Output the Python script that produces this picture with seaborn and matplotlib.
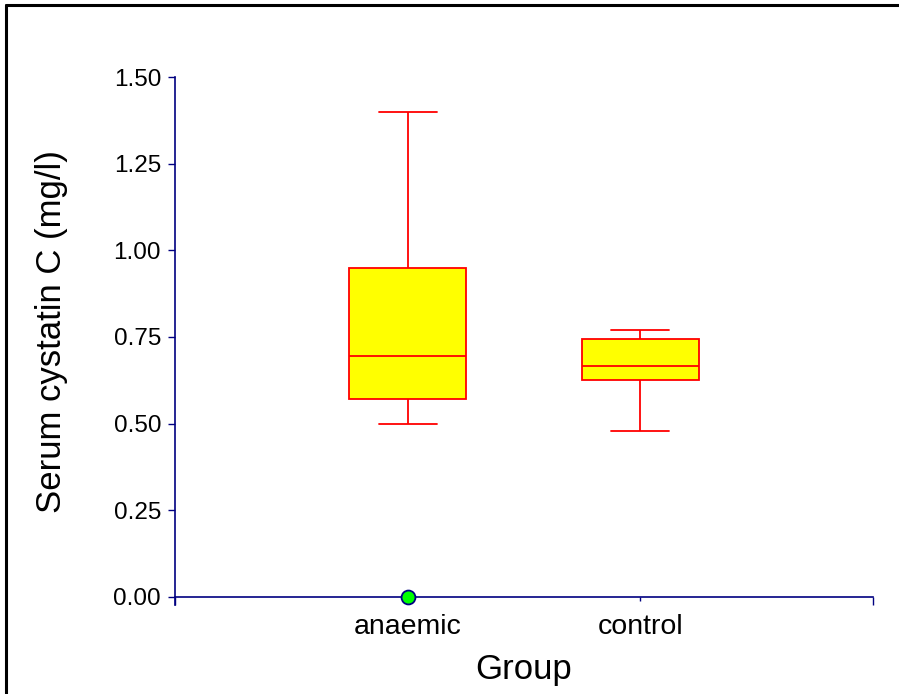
"""
Serum cystatin C by group - box plot
"""

import pandas as pd
import seaborn as sns
import matplotlib.pyplot as plt
from matplotlib.lines import Line2D

# -------------------------------
# Data
# -------------------------------
groups = ["anaemic", "control"]
anaemic_vals = [0.00, 0.50, 0.57, 0.63, 0.695, 0.82, 0.95, 1.20, 1.40]
control_vals = [0.479, 0.55, 0.626, 0.65, 0.666, 0.70, 0.744, 0.76, 0.770]
y_ticks = [0.00, 0.25, 0.50, 0.75, 1.00, 1.25, 1.50]

df = pd.DataFrame({
    "Group": ["anaemic"] * len(anaemic_vals) + ["control"] * len(control_vals),
    "value": anaemic_vals + control_vals,
})

# -------------------------------
# Style
# -------------------------------
sns.set_theme(style="ticks")
plt.rcParams["font.family"] = ["Liberation Sans", "DejaVu Sans"]
plt.rcParams["text.color"] = "black"
plt.rcParams["axes.labelcolor"] = "black"
navy = "#000080"

fig = plt.figure(figsize=(8.99, 6.94), dpi=100)
W, H = 899, 694
ax = fig.add_axes([175 / W, (H - 605) / H, (873 - 175) / W, (605 - 77) / H])

sns.boxplot(
    data=df, x="Group", y="value", order=groups, ax=ax,
    width=0.5, whis=1.4, color="#ffff00", saturation=1,
    linecolor="#ff0000", linewidth=1.3,
    flierprops=dict(marker="o", markerfacecolor="#00ff00",
                    markeredgecolor=navy, markersize=10,
                    markeredgewidth=1.3, zorder=5, clip_on=False),
)

# -------------------------------
# Axes
# -------------------------------
ax.set_xlim(-1, 2)
ax.set_ylim(-0.0231, 1.5)
ax.set_yticks(y_ticks)
ax.set_yticklabels([f"{t:.2f}" for t in y_ticks])
ax.set_xticks([0, 1])
ax.set_xticklabels(groups)
ax.set_xticks([-1, 2], minor=True)

ax.spines["top"].set_visible(False)
ax.spines["right"].set_visible(False)
ax.spines["bottom"].set_position(("data", 0))
for s in ["left", "bottom"]:
    ax.spines[s].set_color(navy)
    ax.spines[s].set_linewidth(1.2)

ax.tick_params(axis="y", colors=navy, labelcolor="black", length=5,
               width=1, pad=5, labelsize=17.5)
ax.tick_params(axis="x", which="major", colors=navy, labelcolor="black",
               length=3, width=1, pad=9, labelsize=20.5)
ax.tick_params(axis="x", which="minor", colors=navy, length=6, width=1)

ax.set_xlabel("Group", fontsize=25)
ax.set_ylabel("Serum cystatin C (mg/l)", fontsize=25)
ax.xaxis.set_label_coords(0.5, -0.09)
ax.yaxis.set_label_coords(-0.153, 0.517)

# black frame (top and left edges)
fig.add_artist(Line2D([6 / W, 1], [(H - 5) / H] * 2, color="black", lw=2.2,
                      transform=fig.transFigure))
fig.add_artist(Line2D([6 / W] * 2, [0, (H - 5) / H], color="black", lw=2.2,
                      transform=fig.transFigure))

plt.savefig("out.png", dpi=100)
